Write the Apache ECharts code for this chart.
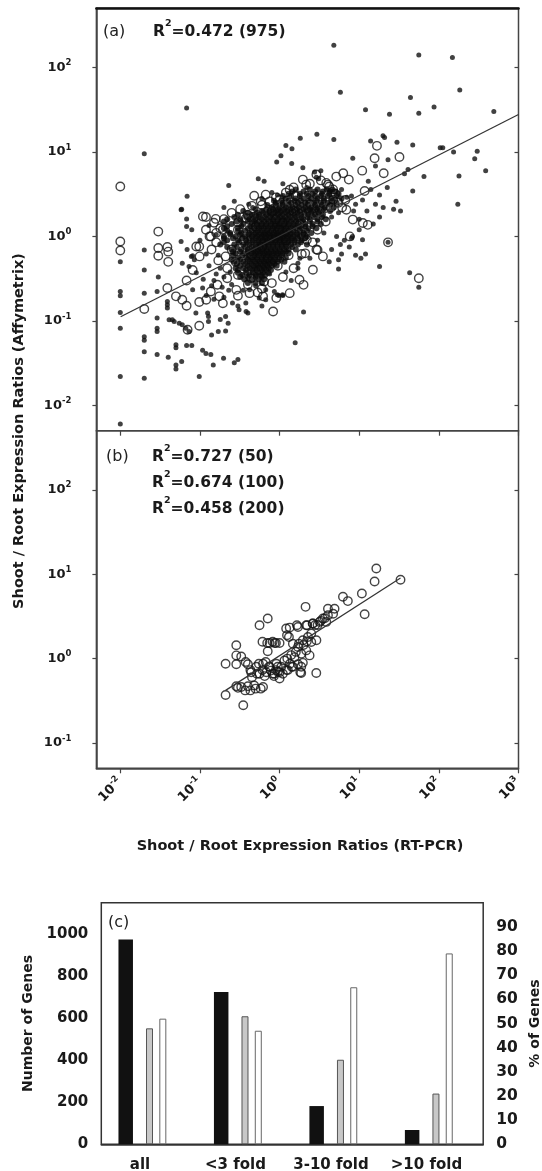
<!DOCTYPE html>
<html>
<head>
<meta charset="utf-8">
<script src="https://cdn.jsdelivr.net/npm/echarts@6/dist/echarts.min.js"></script>
<style>
html, body { margin: 0; padding: 0; background: #fff; }
#chart { width: 542px; height: 1171px; }
</style>
</head>
<body>
<div id="chart"></div>
<script>
// (a) all genes: shoot/root ratio, RT-PCR (x) vs Affymetrix (y)
const aOutliers = [
  [4.8, 183], [0.068, 33], [5.8, 51], [56, 140], [148, 131], [183, 54], [44, 44], [87, 34], [56, 28.7], [12, 31.5], [24, 28], [490, 30],
  [2.94, 16.2], [4.8, 14], [1.82, 14.5], [1.43, 10.9], [1.2, 11.9], [1.04, 9.0], [0.92, 7.6], [1.42, 7.3], [1.96, 6.5], [2.75, 5.8], [3.3, 6.0], [2.9, 5.0],
  [8.3, 8.4], [13.9, 13.5], [19.9, 15.5], [20.8, 14.8], [29.8, 13], [47, 12.1], [104, 11.2], [112, 11.2], [153, 10], [303, 10.2], [282, 8.3], [387, 6.0],
  [179, 5.2], [65, 5.1], [47, 3.45], [37, 5.5], [41, 6.2], [22.5, 3.8], [173, 2.4],
  [23, 8.1], [16, 6.8], [33, 2.0], [29, 2.6], [27, 2.1], [18, 1.7], [16, 2.4], [18, 3.1], [11, 2.7], [10, 1.2], [8.2, 1.0], [11, 0.91], [5.8, 0.8],
  [5.5, 0.53], [5.5, 0.41], [18, 0.44], [23, 0.85], [43, 0.37], [56, 0.25],
  [2.0, 0.127], [1.57, 0.055], [1.1, 0.2], [0.98, 0.2], [1.7, 0.42], [1.7, 0.48], [1.8, 0.55],
  [5.2, 1.0], [6.5, 0.9], [7.5, 0.75], [9, 0.6], [10.5, 0.55], [12, 0.62], [6, 0.62], [8, 0.95], [4.5, 0.7], [4.2, 0.5],
  [12.5, 2.0], [14, 3.6], [9, 2.4], [8, 3.0], [13, 4.5], [15, 1.4], [20, 2.2], [0.54, 4.8], [0.64, 4.5], [0.23, 4.0], [0.94, 3.1], [0.41, 2.4], [0.46, 2.2], [0.2, 2.2],
  [0.02, 9.5], [0.01, 0.5], [0.01, 0.223], [0.01, 0.198], [0.01, 0.126], [0.01, 0.082], [0.01, 0.022], [0.01, 0.006],
  [0.02, 0.69], [0.02, 0.40], [0.02, 0.213], [0.02, 0.065], [0.02, 0.059], [0.02, 0.043], [0.02, 0.021],
  [0.03, 0.33], [0.029, 0.223], [0.029, 0.108], [0.029, 0.082], [0.029, 0.075], [0.029, 0.04],
  [0.039, 0.17], [0.039, 0.155], [0.039, 0.142], [0.041, 0.103], [0.045, 0.103], [0.0475, 0.098], [0.04, 0.037], [0.05, 0.052], [0.05, 0.048], [0.05, 0.030], [0.05, 0.027],
  [0.055, 0.094], [0.06, 0.09], [0.0665, 0.082], [0.073, 0.075], [0.059, 0.033], [0.068, 0.051], [0.079, 0.051], [0.058, 2.07], [0.069, 2.98], [0.068, 1.61],
  [0.068, 1.31], [0.079, 1.2], [0.059, 2.1], [0.058, 0.87], [0.069, 0.70], [0.078, 0.58], [0.06, 0.48], [0.073, 0.44], [0.081, 0.59], [0.085, 0.53],
  [0.098, 0.022], [0.108, 0.045], [0.119, 0.041], [0.137, 0.040], [0.147, 0.030], [0.14, 0.068], [0.17, 0.075], [0.128, 0.098], [0.128, 0.113],
  [0.21, 0.076], [0.226, 0.094], [0.198, 0.036], [0.27, 0.032], [0.30, 0.035],
  [0.31, 0.135], [0.38, 0.129], [0.40, 0.124], [0.556, 0.186], [0.67, 0.178], [0.94, 0.204], [1.09, 0.204],
  [0.081, 0.233], [0.108, 0.245], [0.125, 0.124], [0.089, 0.124], [0.256, 0.163], [0.377, 0.163], [0.42, 0.233], [0.21, 0.113], [0.18, 0.104],
  [0.67, 0.233], [0.86, 0.223], [0.25, 0.27], [0.15, 0.3], [0.19, 0.25], [0.35, 0.23], [0.5, 0.26], [0.3, 0.15], [0.6, 0.15],
  [0.12, 0.2], [0.14, 0.26], [0.16, 0.36], [0.13, 0.45], [0.18, 0.42], [0.2, 0.33], [0.24, 0.38], [0.15, 0.18], [0.2, 0.19], [0.23, 0.23],
  [0.11, 0.31], [0.09, 0.37], [0.17, 0.6], [0.12, 0.62], [0.1, 0.9], [0.13, 1.35], [0.16, 1.05], [0.27, 2.6], [0.33, 1.5], [0.75, 0.36],
  [1.2, 0.38], [1.4, 0.3], [2.4, 0.55], [3.0, 0.9], [3.6, 1.1], [4.5, 1.7], [5.5, 1.9], [6.0, 3.6], [7, 2.9], [8.5, 2.0], [10, 1.6],
  [2.2, 3.8], [3.1, 4.8], [1.1, 4.2], [0.8, 3.3], [0.6, 2.8]
]

// dense core of (a), read row by row: [y, x values]
const aCoreRows = [
  [3.6, [1.6, 2.4, 3.0, 3.9, 4.6]],
  [3.4, [1.45, 2.0, 2.8, 3.5, 4.3, 5.0]],
  [3.2, [1.3, 1.8, 2.2, 2.6, 3.4, 4.2, 5.5]],
  [3.0, [1.1, 1.4, 1.8, 2.3, 2.8, 3.3, 4.0, 5.2]],
  [2.8, [1.2, 1.6, 2.0, 2.5, 3.0, 3.6, 4.5, 6.0]],
  [2.65, [0.85, 1.05, 1.3, 1.55, 1.85, 2.3, 2.9, 3.6, 4.6]],
  [2.5, [0.9, 1.1, 1.4, 1.7, 2.1, 2.7, 3.3, 4.0, 5.2]],
  [2.35, [0.7, 0.9, 1.1, 1.3, 1.6, 1.9, 2.3, 2.8, 3.4, 4.3]],
  [2.2, [0.8, 1.0, 1.2, 1.45, 1.75, 2.1, 2.5, 3.0, 3.7, 4.8]],
  [2.1, [0.5, 0.68, 0.83, 0.97, 1.15, 1.38, 1.65, 2.0, 2.4, 2.9, 3.6]],
  [2.0, [0.35, 0.6, 0.75, 0.9, 1.05, 1.25, 1.5, 1.8, 2.2, 2.6, 3.2, 4.3]],
  [1.9, [0.4, 0.52, 0.62, 0.74, 0.87, 1.02, 1.2, 1.4, 1.68, 2.05, 2.5, 3.1]],
  [1.8, [0.3, 0.45, 0.55, 0.68, 0.8, 0.95, 1.1, 1.3, 1.55, 1.85, 2.3, 2.8, 3.5]],
  [1.7, [0.27, 0.38, 0.48, 0.56, 0.65, 0.76, 0.88, 1.02, 1.18, 1.36, 1.6, 1.9, 2.25, 2.7, 3.4]],
  [1.6, [0.22, 0.32, 0.42, 0.5, 0.6, 0.7, 0.82, 0.95, 1.1, 1.25, 1.45, 1.7, 2.0, 2.4, 3.0, 3.8]],
  [1.5, [0.2, 0.29, 0.4, 0.48, 0.56, 0.64, 0.73, 0.83, 0.94, 1.07, 1.22, 1.4, 1.62, 1.95, 2.4, 3.0]],
  [1.4, [0.25, 0.35, 0.45, 0.52, 0.6, 0.68, 0.78, 0.88, 1.0, 1.15, 1.3, 1.5, 1.75, 2.1, 2.6, 3.3]],
  [1.32, [0.22, 0.33, 0.43, 0.51, 0.59, 0.67, 0.77, 0.87, 0.98, 1.12, 1.28, 1.48, 1.75, 2.1, 2.6]],
  [1.25, [0.2, 0.3, 0.4, 0.48, 0.55, 0.63, 0.72, 0.82, 0.92, 1.05, 1.2, 1.38, 1.6, 1.9, 2.3, 2.9]],
  [1.17, [0.22, 0.3, 0.37, 0.45, 0.53, 0.61, 0.7, 0.79, 0.9, 1.02, 1.15, 1.3, 1.5, 1.8, 2.2]],
  [1.1, [0.24, 0.33, 0.42, 0.5, 0.58, 0.66, 0.75, 0.85, 0.96, 1.08, 1.22, 1.4, 1.65, 2.0, 2.5]],
  [1.05, [0.24, 0.32, 0.41, 0.48, 0.56, 0.64, 0.72, 0.82, 0.92, 1.05, 1.2, 1.38, 1.65, 2.0]],
  [1.0, [0.2, 0.28, 0.37, 0.45, 0.52, 0.6, 0.68, 0.77, 0.87, 0.98, 1.12, 1.28, 1.5, 1.8, 2.2]],
  [0.95, [0.2, 0.26, 0.34, 0.42, 0.5, 0.58, 0.66, 0.75, 0.85, 0.96, 1.09, 1.25, 1.45, 1.7, 2.1]],
  [0.9, [0.22, 0.3, 0.38, 0.46, 0.54, 0.62, 0.7, 0.8, 0.9, 1.02, 1.16, 1.33, 1.55, 1.9]],
  [0.85, [0.2, 0.31, 0.39, 0.46, 0.54, 0.61, 0.69, 0.78, 0.88, 1.0, 1.13, 1.3, 1.55, 1.85]],
  [0.8, [0.18, 0.27, 0.35, 0.42, 0.5, 0.57, 0.65, 0.73, 0.83, 0.94, 1.06, 1.2, 1.4, 1.7, 2.2]],
  [0.75, [0.22, 0.29, 0.37, 0.44, 0.51, 0.58, 0.65, 0.73, 0.83, 0.94, 1.07, 1.22, 1.45]],
  [0.7, [0.25, 0.33, 0.4, 0.47, 0.54, 0.61, 0.69, 0.78, 0.88, 1.0, 1.14, 1.3, 1.6]],
  [0.66, [0.26, 0.32, 0.4, 0.47, 0.54, 0.61, 0.69, 0.79, 0.9, 1.03, 1.2]],
  [0.63, [0.28, 0.36, 0.44, 0.5, 0.57, 0.65, 0.74, 0.84, 0.95, 1.1, 1.3]],
  [0.6, [0.26, 0.34, 0.41, 0.48, 0.55, 0.63, 0.71, 0.8, 0.92, 1.05]],
  [0.56, [0.3, 0.38, 0.45, 0.52, 0.6, 0.68, 0.77, 0.88, 1.0, 1.2]],
  [0.53, [0.25, 0.32, 0.4, 0.46, 0.53, 0.6, 0.68, 0.77, 0.88, 1.05]],
  [0.5, [0.27, 0.35, 0.42, 0.49, 0.56, 0.64, 0.72, 0.82, 0.95, 1.15]],
  [0.47, [0.29, 0.37, 0.44, 0.51, 0.58, 0.66, 0.75, 0.86]],
  [0.45, [0.32, 0.4, 0.47, 0.54, 0.62, 0.7, 0.8, 0.92]],
  [0.42, [0.28, 0.35, 0.42, 0.49, 0.56, 0.64, 0.73]],
  [0.4, [0.3, 0.38, 0.45, 0.52, 0.6, 0.68, 0.78]],
  [0.37, [0.3, 0.38, 0.46, 0.54, 0.62, 0.72]],
  [0.35, [0.34, 0.42, 0.5, 0.58, 0.66]],
  [0.33, [0.32, 0.4, 0.5, 0.6]],
  [0.31, [0.36, 0.45, 0.55, 0.64]],
  [0.28, [0.4, 0.5, 0.6]]
]

const aCircles = [
  [0.01, 3.9], [0.01, 0.87], [0.01, 0.68], [0.03, 1.14], [0.03, 0.73], [0.039, 0.75], [0.03, 0.59], [0.04, 0.66], [0.04, 0.5],
  [0.02, 0.138], [0.039, 0.245], [0.068, 0.30], [0.05, 0.195], [0.06, 0.178], [0.068, 0.151], [0.098, 0.167], [0.098, 0.0875], [0.07, 0.0785],
  [0.175, 0.195], [0.137, 0.223], [0.166, 0.268], [0.30, 0.198], [0.53, 0.217], [0.83, 0.129], [0.64, 0.293], [0.44, 0.32], [0.22, 0.32], [2.0, 0.267],
  [0.119, 1.70], [0.158, 1.61], [0.48, 3.03], [0.67, 3.12], [0.58, 2.6], [0.30, 1.47], [0.38, 1.65], [0.48, 1.70], [0.098, 0.76], [0.119, 1.2], [0.137, 1.0], [0.21, 0.58],
  [16.7, 11.8], [15.6, 8.4], [32, 8.7], [20.3, 5.6], [10.9, 6.0], [6.3, 5.6], [7.4, 4.7], [11.7, 3.45], [2.16, 4.1], [4.05, 4.1], [4.7, 3.6],
  [12.8, 1.37], [3.0, 0.69], [56, 0.32], [23, 0.85], [6.7, 2.7], [6.1, 2.2], [2.1, 0.63],
  [0.109, 1.72], [0.09, 0.76], [0.099, 0.58], [0.081, 0.40], [0.132, 1.0], [0.16, 1.1], [0.194, 1.2],
  [0.12, 0.178], [0.194, 0.162], [0.286, 0.233], [0.42, 0.213], [0.62, 0.195], [0.91, 0.186], [1.34, 0.213], [1.78, 0.307], [2.62, 0.403], [3.5, 0.58],
  [8.3, 1.58], [11.1, 1.44], [6.9, 2.07], [4.7, 2.72], [2.9, 0.7], [2.2, 0.91], [7.6, 1.0],
  [1.0, 2.72], [1.34, 3.57], [1.96, 4.7], [2.9, 5.4], [3.86, 4.3], [5.15, 5.1],
  [0.35, 0.9], [0.5, 1.3], [0.7, 0.55], [0.9, 1.6], [1.2, 0.9], [1.5, 2.0], [0.6, 0.75], [0.45, 0.6], [1.0, 1.2], [1.8, 1.4], [0.8, 2.0], [2.4, 2.4],
  [0.3, 1.2], [0.25, 0.7], [0.55, 0.4], [1.3, 0.6], [2.0, 1.0], [0.4, 1.8], [1.6, 3.0], [3.2, 2.0], [0.28, 0.5], [0.7, 1.0], [1.1, 1.45], [0.95, 0.45],
  [0.15, 1.45], [0.2, 1.6], [0.25, 1.9], [0.32, 2.1], [0.45, 2.3], [0.6, 2.35], [0.75, 2.6], [0.9, 2.9], [1.2, 3.3], [1.5, 3.8], [2.4, 4.2], [3.3, 4.6],
  [4.2, 3.9], [5.0, 3.2], [5.5, 2.5], [4.4, 2.2], [3.8, 1.5], [3.0, 1.2], [2.6, 0.85], [1.9, 0.62], [1.5, 0.42], [1.1, 0.33], [0.8, 0.28], [0.6, 0.24],
  [0.4, 0.27], [0.3, 0.35], [0.22, 0.42], [0.17, 0.52], [0.14, 0.7], [0.16, 0.85], [0.18, 1.25]
]
const aFit = [[0.0101, 0.112], [1000, 27.7]]

// (b) genes checked by RT-PCR
const bCircles = [
  [16.4, 11.7], [15.6, 8.2], [33, 8.6], [10.8, 5.9], [6.25, 5.4], [7.2, 4.8], [11.7, 3.35], [2.12, 4.1],
  [4.05, 3.9], [4.9, 3.9], [4.05, 3.26], [3.5, 2.98], [3.86, 2.72], [3.18, 2.72], [4.7, 3.4],
  [2.62, 2.6], [2.16, 2.48], [1.7, 2.37], [0.56, 2.48], [0.71, 2.98], [1.21, 2.27], [1.24, 1.89], [1.34, 2.33],
  [0.75, 1.53], [0.865, 1.53], [1.0, 1.53], [0.71, 1.22], [0.286, 1.44], [0.286, 1.09], [0.33, 1.06], [0.21, 0.87], [0.286, 0.855], [0.4, 0.855],
  [0.51, 0.8], [0.62, 0.87], [0.75, 0.8], [0.91, 0.87], [0.44, 0.69], [0.56, 0.66], [0.68, 0.69], [0.82, 0.66], [1.0, 0.69],
  [1.27, 0.73], [1.47, 0.8], [1.7, 0.855], [1.54, 1.04], [1.87, 1.14], [1.7, 1.37], [1.47, 1.5], [1.96, 1.65], [2.27, 1.8], [2.5, 1.57],
  [2.16, 1.25], [2.38, 1.09], [1.96, 0.89], [1.87, 0.8], [1.31, 1.8], [2.89, 0.675], [1.87, 0.675],
  [0.375, 0.91], [0.286, 0.47], [0.3, 0.45], [0.33, 0.46], [0.21, 0.37], [0.35, 0.28], [0.37, 0.42], [0.43, 0.42], [0.5, 0.44], [0.58, 0.44],
  [0.62, 0.46], [0.45, 0.6], [0.52, 0.66], [0.43, 0.73], [0.61, 0.73], [0.55, 0.87], [0.67, 0.91], [0.74, 0.8], [0.86, 0.66], [0.9, 0.73],
  [0.95, 0.8], [1.0, 0.58], [1.1, 0.66], [1.22, 0.73], [1.35, 0.87], [1.42, 0.8], [0.61, 1.58], [0.7, 1.53], [0.82, 1.58], [0.9, 1.53],
  [1.65, 2.48], [2.22, 2.48], [2.5, 1.98], [2.9, 1.65], [3.0, 2.5], [3.3, 2.8], [3.7, 3.0], [1.82, 0.69],
  [0.78, 0.72], [0.85, 0.62], [0.95, 0.7], [1.05, 0.8], [1.15, 0.95], [1.25, 1.0], [1.4, 1.1], [1.6, 1.2], [1.75, 1.5], [2.0, 1.45],
  [2.2, 1.6], [2.6, 2.6], [2.8, 2.5], [0.65, 0.62], [0.48, 0.48], [0.4, 0.47]
]
const bFit = [[0.21, 0.42], [33, 9.0]]

// decade ticks shared by (a) and (b)
const decadesX = [0.01, 0.1, 1, 10, 100, 1000]
const decadesYa = [0.01, 0.1, 1, 10, 100]
const decadesYb = [0.1, 1, 10, 100]

// (c) gene counts and percentages per fold class
const foldClasses = ['all', '<3 fold', '3-10 fold', '>10 fold']
const geneCounts = [975, 725, 182, 68]
const pctGrey = [48, 53, 35, 21]
const pctWhite = [52, 47, 65, 79]

const FONT = 'DejaVu Sans'
const INK = '#1a1a1a'
const LINE = '#444'

const aCore = []
aCoreRows.forEach(function (row) {
  row[1].forEach(function (x) { aCore.push([x, row[0]]) })
})

const powRich = {
  b: { fontFamily: FONT, fontSize: 13, fontWeight: 'bold', color: INK, lineHeight: 18 },
  s: { fontFamily: FONT, fontSize: 8.5, fontWeight: 'bold', color: INK, verticalAlign: 'top', lineHeight: 12 }
}
function pow10Label(v) {
  const e = Math.log10(v)
  const r = Math.round(e)
  if (Math.abs(e - r) > 1e-6) return ''
  return '{b|10}{s|' + r + '}'
}
const rRich = {
  b: { fontFamily: FONT, fontSize: 15.5, fontWeight: 'bold', fill: INK, lineHeight: 26 },
  s: { fontFamily: FONT, fontSize: 9.5, fontWeight: 'bold', fill: INK, verticalAlign: 'top', lineHeight: 17 }
}

const X_MIN = Math.pow(10, -2.3)
const X_MAX = 1000
function logAxis(extra) {
  return Object.assign({ type: 'log', logBase: 10, splitLine: { show: false } }, extra)
}
function tickStyle(len, inside, values) {
  return { inside: inside, length: len, customValues: values, lineStyle: { color: LINE, width: 1.2 } }
}
const circleStyle = { color: 'rgba(0,0,0,0)', borderColor: '#151515', borderWidth: 1.4 }

const chart = echarts.init(document.getElementById('chart'))
chart.setOption({
  animation: false,
  backgroundColor: '#fff',
  grid: [
    { left: 96.4, top: 8.3, width: 422.1, height: 422.4, show: true, borderColor: LINE, borderWidth: 1.5, containLabel: false, outerBoundsMode: 'none' },
    { left: 96.4, top: 430.7, width: 422.1, height: 337.6, show: true, borderColor: LINE, borderWidth: 1.5, containLabel: false, outerBoundsMode: 'none' },
    { left: 101.3, top: 902.7, width: 381.9, height: 241.6, show: true, borderColor: '#333', borderWidth: 1.5, containLabel: false, outerBoundsMode: 'none' }
  ],
  xAxis: [
    logAxis({ gridIndex: 0, min: X_MIN, max: X_MAX, axisLine: { show: false }, axisTick: { show: false }, axisLabel: { show: false } }),
    logAxis({
      gridIndex: 0, position: 'top', min: X_MIN, max: X_MAX,
      axisLine: { lineStyle: { color: '#111', width: 2.5 } },
      axisTick: { show: false }, axisLabel: { show: false }
    }),
    logAxis({
      gridIndex: 1, min: X_MIN, max: X_MAX,
      axisLine: { lineStyle: { color: LINE, width: 1.5 } },
      axisTick: tickStyle(5, false, decadesX),
      axisLabel: { rotate: 45, margin: 12, customValues: decadesX, formatter: pow10Label, rich: powRich }
    }),
    logAxis({
      gridIndex: 1, position: 'top', min: X_MIN, max: X_MAX,
      axisLine: { show: false },
      axisTick: tickStyle(5, true, decadesX),
      axisLabel: { show: false }
    }),
    {
      gridIndex: 2, type: 'category', data: foldClasses,
      axisLine: { lineStyle: { color: '#333', width: 1.5 } },
      axisTick: { show: false },
      axisLabel: { interval: 0, fontFamily: FONT, fontSize: 15, fontWeight: 'bold', color: INK, margin: 13, padding: [0, 18, 0, 0] }
    }
  ],
  yAxis: [
    logAxis({
      gridIndex: 0, min: X_MIN, max: Math.pow(10, 2.7),
      axisLine: { lineStyle: { color: LINE, width: 1.5 } },
      axisTick: tickStyle(4, false, decadesYa),
      axisLabel: { margin: 25, customValues: decadesYa, formatter: pow10Label, rich: powRich }
    }),
    logAxis({
      gridIndex: 0, position: 'right', min: X_MIN, max: Math.pow(10, 2.7),
      axisLine: { show: false },
      axisTick: tickStyle(4, true, decadesYa),
      axisLabel: { show: false }
    }),
    logAxis({
      gridIndex: 1, min: Math.pow(10, -1.3), max: Math.pow(10, 2.7),
      axisLine: { lineStyle: { color: LINE, width: 1.5 } },
      axisTick: tickStyle(4, false, decadesYb),
      axisLabel: { margin: 25, customValues: decadesYb, formatter: pow10Label, rich: powRich }
    }),
    logAxis({
      gridIndex: 1, position: 'right', min: Math.pow(10, -1.3), max: Math.pow(10, 2.7),
      axisLine: { show: false },
      axisTick: tickStyle(4, true, decadesYb),
      axisLabel: { show: false }
    }),
    {
      gridIndex: 2, type: 'value', min: 0, max: 1150, interval: 50,
      name: 'Number of Genes', nameLocation: 'middle', nameGap: 60,
      nameTextStyle: { fontFamily: FONT, fontSize: 14, fontWeight: 'bold', color: INK },
      axisLine: { lineStyle: { color: '#333', width: 1.5 } },
      axisTick: { inside: true, length: 3, lineStyle: { color: '#333' } },
      axisLabel: {
        margin: 13, fontFamily: FONT, fontSize: 15, fontWeight: 'bold', color: INK,
        formatter: function (v) { return v % 200 === 0 ? String(v) : '' }
      },
      splitLine: { show: false }
    },
    {
      gridIndex: 2, type: 'value', position: 'right', min: 0, max: 100, interval: 10,
      name: '% of Genes', nameLocation: 'middle', nameGap: 45, nameRotate: 90,
      nameTextStyle: { fontFamily: FONT, fontSize: 14, fontWeight: 'bold', color: INK },
      axisLine: { lineStyle: { color: '#333', width: 1.5 } },
      axisTick: { length: 4, lineStyle: { color: '#333' } },
      axisLabel: { margin: 13, showMaxLabel: false, fontFamily: FONT, fontSize: 15.5, fontWeight: 'bold', color: INK },
      splitLine: { show: false }
    }
  ],
  series: [
    {
      type: 'scatter', xAxisIndex: 0, yAxisIndex: 0, data: aCircles,
      symbol: 'circle', symbolSize: 8.5, itemStyle: circleStyle
    },
    {
      type: 'scatter', xAxisIndex: 0, yAxisIndex: 0, data: aCore,
      symbolSize: 6, itemStyle: { color: '#0a0a0a' }
    },
    {
      type: 'scatter', xAxisIndex: 0, yAxisIndex: 0, data: aOutliers,
      symbolSize: 5, itemStyle: { color: '#111' }
    },
    {
      type: 'line', xAxisIndex: 0, yAxisIndex: 0, data: aFit,
      showSymbol: false, lineStyle: { color: '#333', width: 1.2 }
    },
    {
      type: 'scatter', xAxisIndex: 2, yAxisIndex: 2, data: bCircles,
      symbol: 'circle', symbolSize: 8.5, itemStyle: circleStyle
    },
    {
      type: 'line', xAxisIndex: 2, yAxisIndex: 2, data: bFit,
      showSymbol: false, lineStyle: { color: '#333', width: 1.2 }
    },
    {
      type: 'bar', xAxisIndex: 4, yAxisIndex: 4, data: geneCounts,
      barWidth: 14.5, barGap: '90%', itemStyle: { color: '#111' }
    },
    {
      type: 'bar', xAxisIndex: 4, yAxisIndex: 5, data: pctGrey,
      barWidth: 7, barGap: '90%', itemStyle: { color: '#c8c8c8', borderColor: '#555', borderWidth: 1 }
    },
    {
      type: 'bar', xAxisIndex: 4, yAxisIndex: 5, data: pctWhite,
      barWidth: 7, barGap: '90%', itemStyle: { color: '#fff', borderColor: '#666', borderWidth: 1 }
    },
    {
      // empty slot that keeps the bar groups left of the category centre
      type: 'bar', xAxisIndex: 4, yAxisIndex: 5, data: [0, 0, 0, 0],
      barWidth: 7, barGap: '90%', itemStyle: { color: 'rgba(0,0,0,0)' }, silent: true
    }
  ],
  graphic: [
    { type: 'text', x: 103, y: 32, style: { text: '(a)', fontFamily: FONT, fontSize: 16, fill: '#222', verticalAlign: 'middle' } },
    { type: 'text', x: 153, y: 19, style: { text: '{b|R}{s|2}{b|=0.472 (975)}', rich: rRich } },
    { type: 'text', x: 106, y: 457, style: { text: '(b)', fontFamily: FONT, fontSize: 16, fill: '#222', verticalAlign: 'middle' } },
    { type: 'text', x: 152, y: 444, style: {
      text: '{b|R}{s|2}{b|=0.727 (50)}\n{b|R}{s|2}{b|=0.674 (100)}\n{b|R}{s|2}{b|=0.458 (200)}', rich: rRich
    } },
    { type: 'text', x: 108, y: 922.5, style: { text: '(c)', fontFamily: FONT, fontSize: 16, fill: '#222', verticalAlign: 'middle' } },
    { type: 'text', x: 19, y: 431, rotation: Math.PI / 2, style: {
      text: 'Shoot / Root Expression Ratios (Affymetrix)', fontFamily: FONT, fontSize: 14.5, fontWeight: 'bold', fill: INK, align: 'center', verticalAlign: 'middle'
    } },
    { type: 'text', x: 300, y: 846, style: {
      text: 'Shoot / Root Expression Ratios (RT-PCR)', fontFamily: FONT, fontSize: 14.5, fontWeight: 'bold', fill: INK, align: 'center', verticalAlign: 'middle'
    } }
  ]
})
</script>
</body>
</html>
